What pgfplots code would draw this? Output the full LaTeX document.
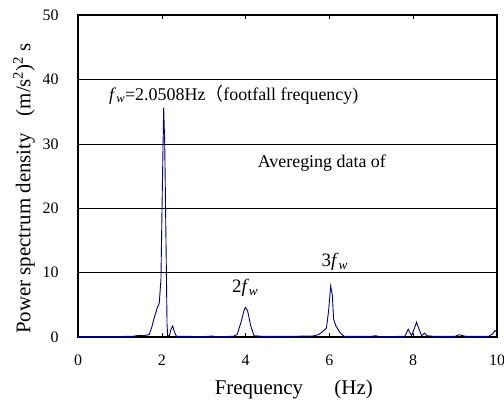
\documentclass[border=0pt]{standalone}
\usepackage{fontspec}
\setmainfont{Liberation Serif}
\newfontfamily\cjk{Noto Sans CJK SC}
\usepackage{pgfplots}
\pgfplotsset{compat=1.18}
\definecolor{navyline}{RGB}{0,0,140}
\begin{document}
\begin{tikzpicture}
\begin{axis}[
 scale only axis, width=419bp, height=322bp,
 xmin=0, xmax=10, ymin=0, ymax=50,
 xtick={0,2,...,10}, ytick={0,10,...,50},
 ymajorgrids, major grid style={black, line width=0.6pt},
 axis line style={line width=1.4pt},
 tick align=inside, major tick length=4bp,
 xtick style={black, line width=0.6pt}, ytick style={draw=none},
 tick label style={font=\fontsize{16}{16}\selectfont},
 /pgf/number format/assume math mode=true,
 xticklabel style={yshift=-14bp},
 yticklabel style={xshift=-16bp},
 xlabel={Frequency\hspace{1.5em}(Hz)},
 label style={font=\fontsize{21}{21}\selectfont},
 xlabel style={at={(rel axis cs:0.515,0)}, anchor=center, yshift=-52bp},
 clip=true,
]
\addplot[navyline, line width=0.9bp] coordinates {
(0,0.05) (0.5,0.05) (1.0,0.08) (1.3,0.1) (1.45,0.25) (1.55,0.2) (1.65,0.3)
(1.70,0.4) (1.76,1.5) (1.82,3.0) (1.88,4.3) (1.94,5.3) (1.98,9) (2.01,22)
(2.045,35.6) (2.07,30) (2.10,15) (2.125,2) (2.14,0.2) (2.18,0.2) (2.22,1.2)
(2.26,1.7) (2.30,0.8) (2.35,0.1) (2.6,0.1) (3.0,0.05) (3.2,0.15) (3.3,0.05)
(3.7,0.1) (3.8,0.4) (3.9,2.5) (3.97,4.3) (4.0,4.6) (4.05,4.0) (4.12,1.8)
(4.2,0.2) (4.4,0.1) (5.0,0.1) (5.6,0.15) (5.75,0.4) (5.85,0.9) (5.93,1.4)
(5.98,4) (6.03,7.9) (6.07,6.5) (6.1,2.8) (6.15,1.8) (6.25,0.7) (6.35,0.1)
(7.0,0.1) (7.1,0.2) (7.2,0.05) (7.8,0.1) (7.88,1.2) (7.96,0.2) (8.02,1.2)
(8.08,2.3) (8.14,1.2) (8.2,0.2) (8.27,0.6) (8.33,0.2) (8.5,0.1) (9.0,0.1)
(9.1,0.35) (9.25,0.1) (9.8,0.1) (9.9,0.5) (9.95,1.0) (10,0.8)
};
\node[anchor=base west, inner sep=0, font=\fontsize{18}{18}\selectfont] at (axis cs:0.74,36.8)
 {\textit{f}\textsubscript{\textit{w}}=2.0508Hz{\cjk （}footfall frequency)};
\node[anchor=center, inner sep=0, font=\fontsize{18}{18}\selectfont] at (axis cs:5.82,27.0) {Avereging data of};
\node[anchor=center, inner sep=0, font=\fontsize{19}{19}\selectfont] at (axis cs:3.99,7.6) {2\textit{f}\textsubscript{\textit{w}}};
\node[anchor=center, inner sep=0, font=\fontsize{19}{19}\selectfont] at (axis cs:6.13,11.6) {3\textit{f}\textsubscript{\textit{w}}};
\end{axis}
\node[rotate=90, anchor=center, inner sep=0, font=\fontsize{21}{21}\selectfont]
 at ([shift={(-54bp,148.5bp)}]current axis.south west)
 {Power spectrum density\hspace{0.8em}(m/s\textsuperscript{2})\textsuperscript{2} s};
\pgfresetboundingbox
\path ([shift={(-78bp,-63bp)}]current axis.south west) rectangle ([shift={(7bp,15bp)}]current axis.north east);
\end{tikzpicture}
\end{document}
